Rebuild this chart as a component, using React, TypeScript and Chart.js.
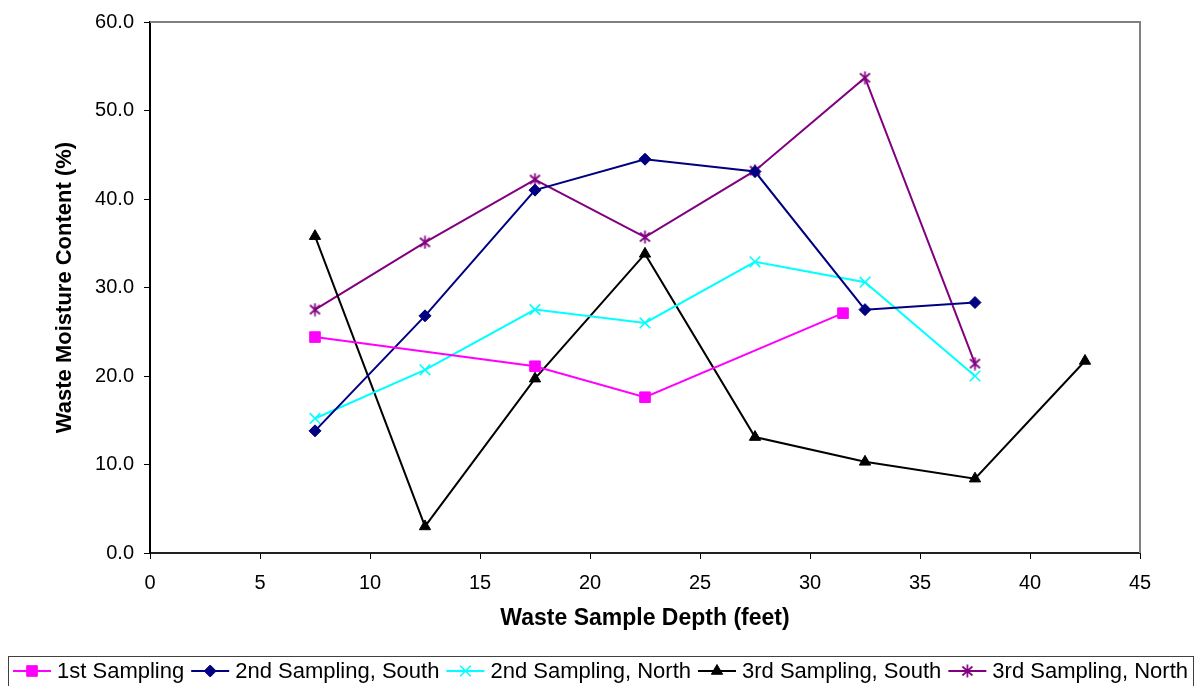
import { useEffect, useRef } from 'react';
import { Chart, registerables } from 'chart.js';
import { drawPoint } from 'chart.js/helpers';

Chart.register(...registerables);

// Sample depths (feet) and moisture content (%) per sampling campaign
const depthsFirst = [7.5, 17.5, 22.5, 31.5];
const moistureFirst = [24.4, 21.1, 17.6, 27.1];

const depthsSecond = [7.5, 12.5, 17.5, 22.5, 27.5, 32.5, 37.5];
const moistureSecondSouth = [13.8, 26.8, 41.0, 44.5, 43.1, 27.5, 28.3];
const moistureSecondNorth = [15.2, 20.7, 27.5, 26.0, 32.9, 30.6, 20.0];

const depthsThirdSouth = [7.5, 12.5, 17.5, 22.5, 27.5, 32.5, 37.5, 42.5];
const moistureThirdSouth = [35.8, 3.0, 19.7, 33.8, 13.1, 10.3, 8.4, 21.7];

const depthsThirdNorth = [7.5, 12.5, 17.5, 22.5, 27.5, 32.5, 37.5];
const moistureThirdNorth = [27.5, 35.1, 42.2, 35.7, 43.2, 53.7, 21.4];

const seriesLabels = [
  '1st Sampling',
  '2nd Sampling, South',
  '2nd Sampling, North',
  '3rd Sampling, South',
  '3rd Sampling, North',
];

const xAxisTitle = 'Waste Sample Depth (feet)';
const yAxisTitle = 'Waste Moisture Content (%)';

const FONT = "'Liberation Sans', Arial, sans-serif";

function pairs(xs: number[], ys: number[]) {
  return xs.map((x, i) => ({ x, y: ys[i] }));
}

// Asterisk marker: an X crossed by a vertical stroke
function makeAsterisk(color: string): HTMLCanvasElement {
  const c = document.createElement('canvas');
  c.width = 13;
  c.height = 14;
  const g = c.getContext('2d')!;
  g.strokeStyle = color;
  g.lineWidth = 1.7;
  g.beginPath();
  g.moveTo(1.5, 2.5);
  g.lineTo(11.5, 11.5);
  g.moveTo(11.5, 2.5);
  g.lineTo(1.5, 11.5);
  g.moveTo(6.5, 0.5);
  g.lineTo(6.5, 13.5);
  g.stroke();
  return c;
}

// Gray frame on the top and right edges of the plot area
const plotFrame = {
  id: 'plotFrame',
  beforeDatasetsDraw(chart: any) {
    const { ctx, chartArea: a } = chart;
    ctx.save();
    ctx.strokeStyle = '#808080';
    ctx.lineWidth = 2;
    ctx.beginPath();
    ctx.moveTo(a.left, a.top);
    ctx.lineTo(a.right, a.top);
    ctx.lineTo(a.right, a.bottom);
    ctx.stroke();
    ctx.restore();
  },
};

// Boxed legend along the bottom: line sample with marker, then label
const boxedLegend = {
  id: 'boxedLegend',
  afterDraw(chart: any) {
    const { ctx } = chart;
    const boxLeft = 8;
    const boxRight = 1193;
    const boxTop = 656;
    const midY = 671;
    const lineLen = 38;
    const textGap = 6;
    const itemGap = 7;

    ctx.save();
    ctx.strokeStyle = '#404040';
    ctx.lineWidth = 1;
    ctx.strokeRect(boxLeft + 0.5, boxTop + 0.5, boxRight - boxLeft, 60);

    ctx.font = `22px ${FONT}`;
    ctx.textBaseline = 'middle';
    ctx.textAlign = 'left';
    const datasets = chart.data.datasets;
    const widths = datasets.map((d: any) => ctx.measureText(d.label).width);
    const total =
      widths.reduce((s: number, w: number) => s + w + lineLen + textGap, 0) +
      itemGap * (datasets.length - 1);
    let x = (boxLeft + boxRight) / 2 - total / 2;

    datasets.forEach((d: any, i: number) => {
      ctx.strokeStyle = d.borderColor;
      ctx.lineWidth = 2;
      ctx.beginPath();
      ctx.moveTo(x, midY);
      ctx.lineTo(x + lineLen, midY);
      ctx.stroke();

      ctx.fillStyle = d.pointBackgroundColor;
      ctx.strokeStyle = d.pointBorderColor;
      ctx.lineWidth = d.pointBorderWidth;
      drawPoint(ctx, {
        pointStyle: d.pointStyle,
        rotation: 0,
        radius: d.pointRadius,
        borderWidth: d.pointBorderWidth,
      } as any, x + lineLen / 2, midY);

      ctx.fillStyle = '#000';
      ctx.fillText(d.label, x + lineLen + textGap, midY + 1);
      x += lineLen + textGap + widths[i] + itemGap;
    });
    ctx.restore();
  },
};

export default function App() {
  const canvasRef = useRef<HTMLCanvasElement | null>(null);

  useEffect(() => {
    document.body.style.margin = '0';
    const canvas = canvasRef.current;
    if (!canvas) return;

    const magenta = '#FF00FF';
    const navy = '#000080';
    const cyan = '#00FFFF';
    const black = '#000000';
    const purple = '#800080';

    const chart = new Chart(canvas, {
      type: 'line',
      data: {
        datasets: [
          {
            label: seriesLabels[0],
            data: pairs(depthsFirst, moistureFirst),
            borderColor: magenta,
            backgroundColor: magenta,
            pointStyle: 'rect',
            pointRadius: 7.5,
            pointBackgroundColor: magenta,
            pointBorderColor: magenta,
            pointBorderWidth: 1,
          },
          {
            label: seriesLabels[1],
            data: pairs(depthsSecond, moistureSecondSouth),
            borderColor: navy,
            backgroundColor: navy,
            pointStyle: 'rectRot',
            pointRadius: 6,
            pointBackgroundColor: navy,
            pointBorderColor: navy,
            pointBorderWidth: 1,
          },
          {
            label: seriesLabels[2],
            data: pairs(depthsSecond, moistureSecondNorth),
            borderColor: cyan,
            backgroundColor: cyan,
            pointStyle: 'crossRot',
            pointRadius: 7.5,
            pointBackgroundColor: cyan,
            pointBorderColor: cyan,
            pointBorderWidth: 1.6,
          },
          {
            label: seriesLabels[3],
            data: pairs(depthsThirdSouth, moistureThirdSouth),
            borderColor: black,
            backgroundColor: black,
            pointStyle: 'triangle',
            pointRadius: 6.5,
            pointBackgroundColor: black,
            pointBorderColor: black,
            pointBorderWidth: 1,
          },
          {
            label: seriesLabels[4],
            data: pairs(depthsThirdNorth, moistureThirdNorth),
            borderColor: purple,
            backgroundColor: purple,
            pointStyle: makeAsterisk(purple),
            pointRadius: 6,
            pointBackgroundColor: purple,
            pointBorderColor: purple,
            pointBorderWidth: 1.6,
          },
        ] as any,
      },
      options: {
        responsive: false,
        devicePixelRatio: 1,
        animation: false,
        layout: { padding: { left: 0, right: 60, top: 22, bottom: 0 } },
        elements: {
          line: { borderWidth: 2, tension: 0, fill: false },
        },
        plugins: {
          legend: { display: false },
          tooltip: { enabled: false },
        },
        scales: {
          x: {
            type: 'linear',
            position: 'bottom',
            min: 0,
            max: 45,
            afterFit(scale: any) {
              scale.height = 133;
            },
            ticks: {
              stepSize: 5,
              color: '#000',
              padding: 12,
              maxRotation: 0,
              font: { family: FONT, size: 20 },
            },
            grid: {
              display: true,
              drawOnChartArea: false,
              drawTicks: true,
              tickLength: 6,
              color: '#000',
            },
            border: { display: true, color: '#202020', width: 2 },
            title: {
              display: true,
              text: xAxisTitle,
              color: '#000',
              font: { family: FONT, size: 23, weight: 'bold' },
              padding: { top: 0, bottom: 54 },
            },
          },
          y: {
            type: 'linear',
            min: 0,
            max: 60,
            afterFit(scale: any) {
              scale.width = 150;
            },
            ticks: {
              stepSize: 10,
              color: '#000',
              padding: 10,
              font: { family: FONT, size: 20 },
              callback: (v: any) => Number(v).toFixed(1),
            },
            grid: {
              display: true,
              drawOnChartArea: false,
              drawTicks: true,
              tickLength: 6,
              color: '#000',
            },
            border: { display: true, color: '#000', width: 2 },
            title: {
              display: true,
              text: yAxisTitle,
              color: '#000',
              font: { family: FONT, size: 22, weight: 'bold' },
              padding: { top: 52, bottom: 0 },
            },
          },
        },
      } as any,
      plugins: [plotFrame, boxedLegend],
    });

    return () => chart.destroy();
  }, []);

  return (
    <div style={{ width: 1200, height: 686, background: '#fff' }}>
      <canvas ref={canvasRef} width={1200} height={686} style={{ display: 'block' }} />
    </div>
  );
}
